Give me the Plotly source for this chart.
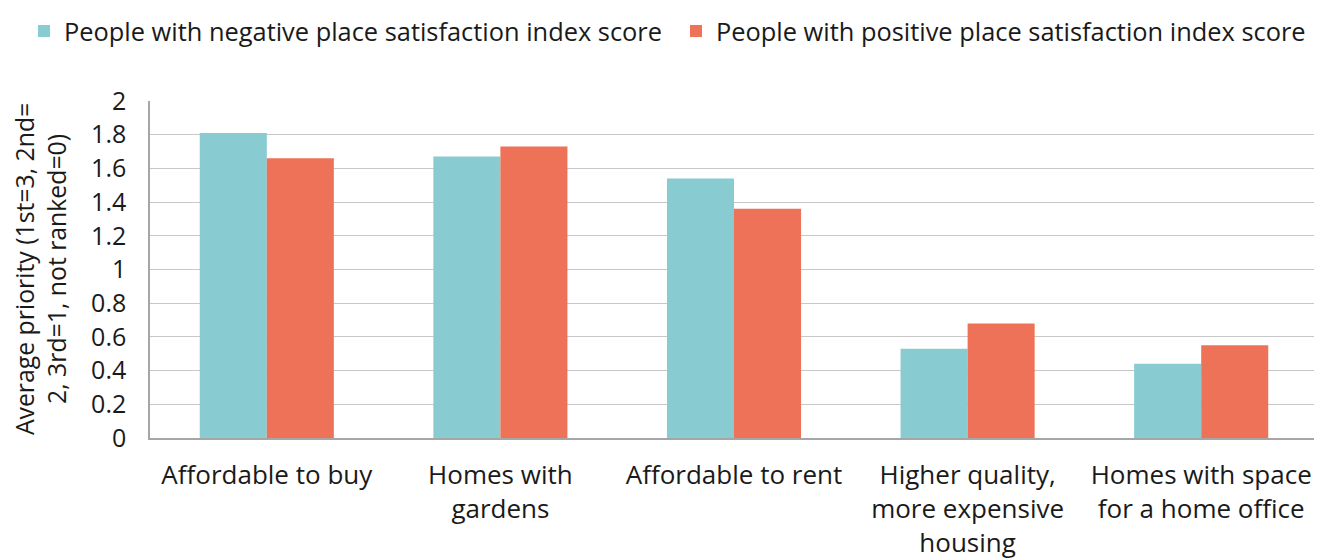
import plotly.graph_objects as go

categories = ["Affordable to buy", "Homes with<br>gardens", "Affordable to rent",
              "Higher quality,<br>more expensive<br>housing", "Homes with space<br>for a home office"]
negative = [1.81, 1.67, 1.54, 0.53, 0.44]
positive = [1.66, 1.73, 1.36, 0.68, 0.55]
series_names = ["People with negative place satisfaction index score",
                "People with positive place satisfaction index score"]
tick_vals = [0, 0.2, 0.4, 0.6, 0.8, 1, 1.2, 1.4, 1.6, 1.8, 2]
tick_text = ["0", "0.2", "0.4", "0.6", "0.8", "1", "1.2", "1.4", "1.6", "1.8", "2"]
y_title = "Average priority (1st=3, 2nd=<br>2, 3rd=1, not ranked=0)"

FONT = "Open Sans, Noto Sans, sans-serif"
SIZE = 25
W, H = 1314, 552  # page has an 8px body margin

fig = go.Figure()
fig.add_trace(go.Bar(x=categories, y=negative, name=series_names[0], legend="legend",
                     marker=dict(color="#88CBD0", line=dict(width=0))))
fig.add_trace(go.Bar(x=categories, y=positive, name=series_names[1], legend="legend2",
                     marker=dict(color="#EE7257", line=dict(width=0))))

fig.add_annotation(text=y_title, xref="paper", yref="paper", x=-0.0945, y=0.5,
                   xanchor="center", yanchor="middle", textangle=-90, showarrow=False,
                   borderpad=0, font=dict(size=24.8, family=FONT, color="#1a1a1a"))

leg_common = dict(orientation="h", xref="container", yref="container", xanchor="left",
                  y=1, yanchor="top", font=dict(size=25.4),
                  itemwidth=30, bgcolor="rgba(0,0,0,0)")

fig.update_layout(
    width=W, height=H,
    margin=dict(l=142, r=4, t=93, b=122),
    paper_bgcolor="white", plot_bgcolor="white",
    font=dict(family=FONT, size=SIZE, color="#1a1a1a"),
    barmode="group", bargap=0.426, bargroupgap=0,
    showlegend=True,
    legend=dict(x=16 / W, **leg_common),
    legend2=dict(x=668 / W, **leg_common),
    xaxis=dict(showline=True, linecolor="#a6a6a6", linewidth=1.5, ticks="",
               tickfont=dict(size=26), showgrid=False, automargin=False,
               ticklabelstandoff=13),
    yaxis=dict(range=[0, 2], tickvals=tick_vals, ticktext=tick_text,
               showgrid=True, gridcolor="#c8c8c8", gridwidth=1.2,
               showline=True, linecolor="#a6a6a6", linewidth=1.5,
               tickfont=dict(size=SIZE), ticks="", zeroline=False, automargin=False,
               ticklabelstandoff=17),
)

fig.write_html("out.html")
